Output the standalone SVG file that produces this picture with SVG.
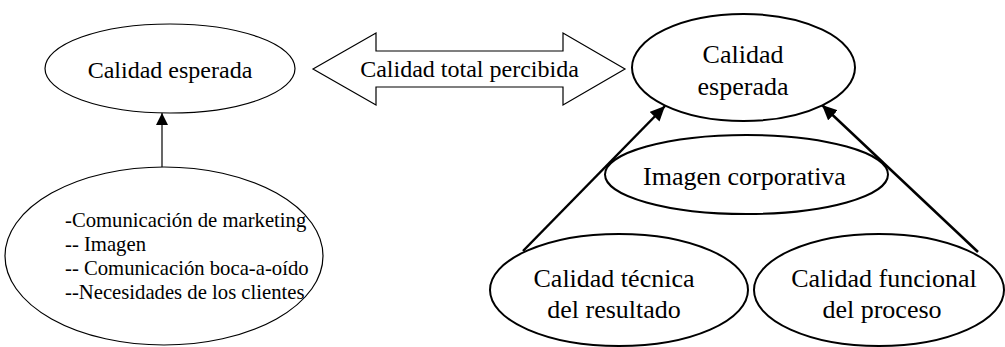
<svg xmlns="http://www.w3.org/2000/svg" width="1005" height="347" viewBox="0 0 1005 347">
<style>
.thin{fill:#fff;stroke:#000;stroke-width:1.2}
.thick{fill:#fff;stroke:#000;stroke-width:2}
</style>
<defs>
<marker id="ah1" markerUnits="userSpaceOnUse" markerWidth="14" markerHeight="14" refX="12" refY="6" orient="auto">
<path d="M0,0 L12,6 L0,12 Z" fill="#000"/>
</marker>
<marker id="ah2" markerUnits="userSpaceOnUse" markerWidth="18" markerHeight="18" refX="15" refY="7" orient="auto">
<path d="M0,0 L15,7 L0,14 Z" fill="#000"/>
</marker>
</defs>
<g id="connectors">
<line x1="162" y1="167" x2="162" y2="113" stroke="#000" stroke-width="1.2" marker-end="url(#ah1)"/>
<line x1="523" y1="251" x2="665" y2="106" stroke="#000" stroke-width="2.5" marker-end="url(#ah2)"/>
<line x1="978" y1="252" x2="822" y2="105" stroke="#000" stroke-width="2.5" marker-end="url(#ah2)"/>
</g>
<g id="n-calidad-esperada-left">
<ellipse class="thin" cx="170" cy="68.5" rx="125" ry="44.5"/>
<text x="170" y="78" font-family="Liberation Serif, serif" font-size="24" text-anchor="middle">Calidad esperada</text>
</g>
<g id="n-factores">
<ellipse class="thin" cx="164" cy="256" rx="159" ry="89"/>
<text x="65" y="227" font-family="Liberation Serif, serif" font-size="20.7">-Comunicaci&#243;n de marketing</text>
<text x="65" y="251" font-family="Liberation Serif, serif" font-size="20.7">-- Imagen</text>
<text x="65" y="275" font-family="Liberation Serif, serif" font-size="20.7">-- Comunicaci&#243;n boca-a-o&#237;do</text>
<text x="65" y="299" font-family="Liberation Serif, serif" font-size="20.7">--Necesidades de los clientes</text>
</g>
<g id="n-calidad-total">
<path class="thin" d="M313,69 L376,33 L376,51 L563,51 L563,33 L625,69 L563,105 L563,87 L376,87 L376,105 Z"/>
<text x="469.5" y="77" font-family="Liberation Serif, serif" font-size="24" text-anchor="middle">Calidad total percibida</text>
</g>
<g id="n-calidad-esperada-right">
<ellipse class="thick" cx="743.5" cy="67.5" rx="111.5" ry="53.5"/>
<text x="743" y="63" font-family="Liberation Serif, serif" font-size="26" text-anchor="middle">Calidad</text>
<text x="743" y="95" font-family="Liberation Serif, serif" font-size="26" text-anchor="middle">esperada</text>
</g>
<g id="n-imagen">
<ellipse class="thick" cx="746.5" cy="174.5" rx="141.5" ry="39.5"/>
<text x="744.5" y="185" font-family="Liberation Serif, serif" font-size="26" text-anchor="middle">Imagen corporativa</text>
</g>
<g id="n-tecnica">
<ellipse class="thick" cx="619" cy="290" rx="129" ry="56"/>
<text x="614" y="287" font-family="Liberation Serif, serif" font-size="26" text-anchor="middle">Calidad t&#233;cnica</text>
<text x="614" y="318" font-family="Liberation Serif, serif" font-size="26" text-anchor="middle">del resultado</text>
</g>
<g id="n-funcional">
<ellipse class="thick" cx="879" cy="290" rx="125" ry="56"/>
<text x="884" y="287" font-family="Liberation Serif, serif" font-size="26" text-anchor="middle">Calidad funcional</text>
<text x="882" y="318" font-family="Liberation Serif, serif" font-size="26" text-anchor="middle">del proceso</text>
</g>
</svg>
